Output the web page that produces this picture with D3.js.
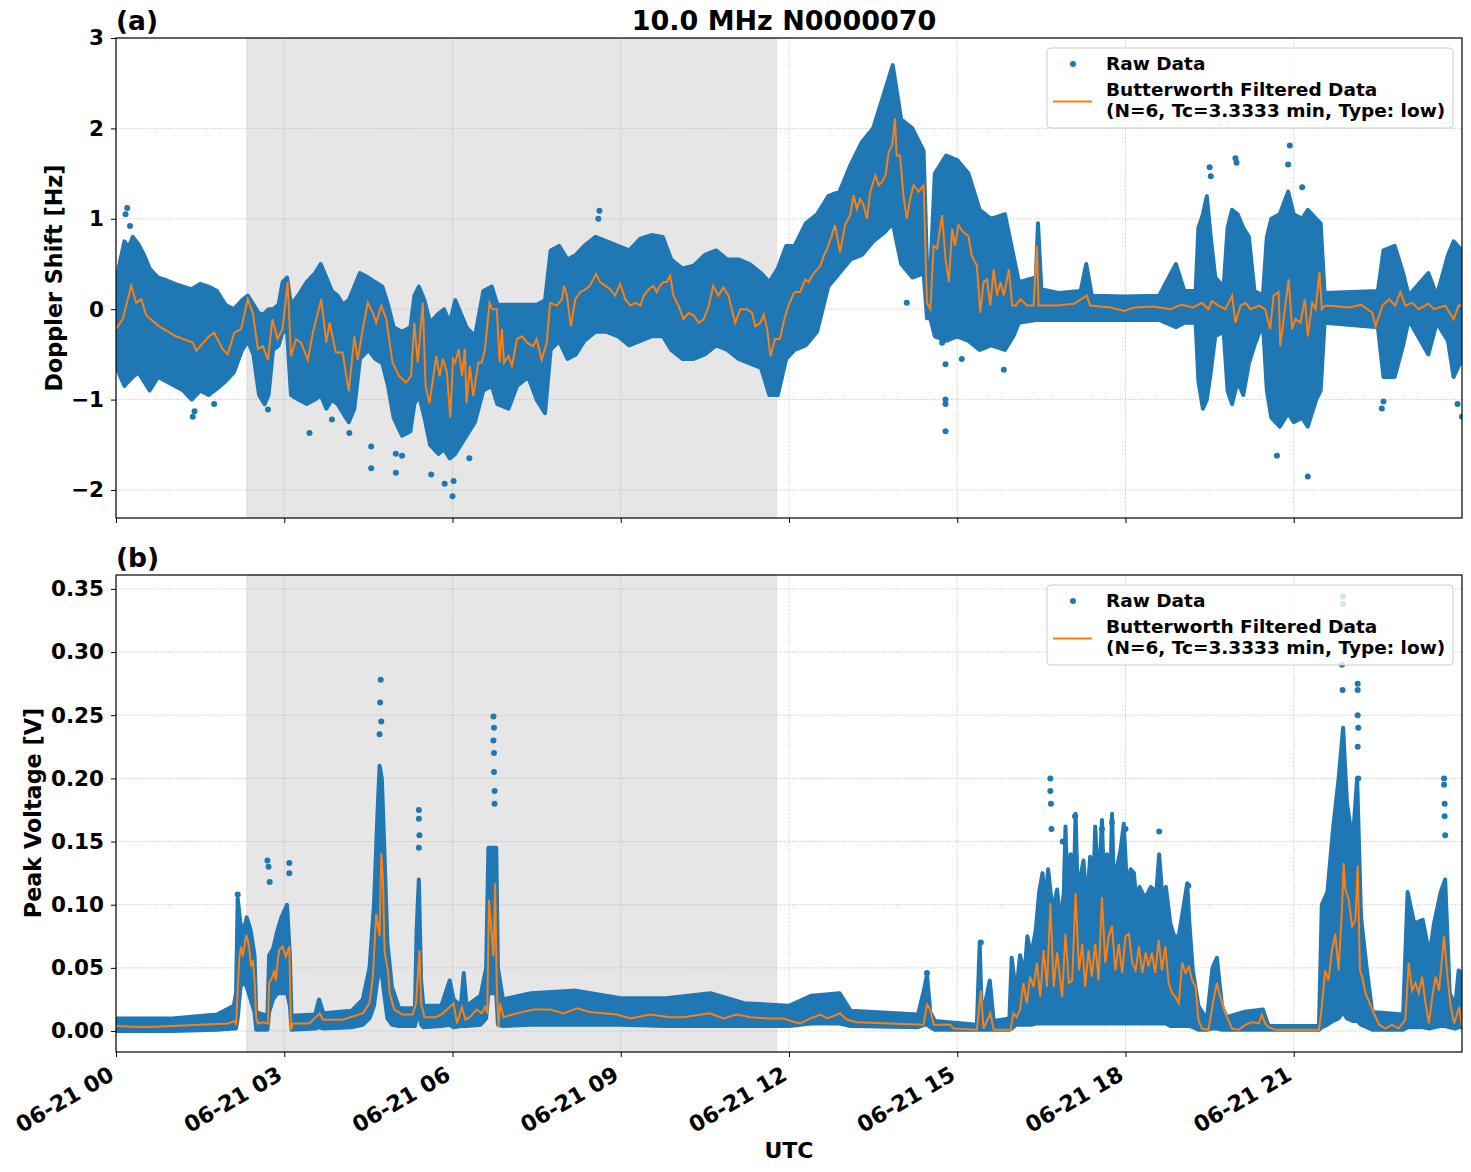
<!DOCTYPE html>
<html>
<head>
<meta charset="utf-8">
<script src="https://cdn.jsdelivr.net/npm/d3@7"></script>
<style>
body { margin: 0; background: #fff; }
text { font-family: "DejaVu Sans", sans-serif; font-weight: bold; fill: #000; }
</style>
</head>
<body>
<div id="chart"></div>
<script>
// ---- data (hours since 06-21 00 UTC) ----
var hourTicks = [0, 3, 6, 9, 12, 15, 18, 21];
var dopplerTicks = [-2, -1, 0, 1, 2, 3];
var voltTicks = [0, 0.05, 0.10, 0.15, 0.20, 0.25, 0.30, 0.35];
var nightSpan = [2.33, 11.78];

// raw Doppler cloud: [hour, lower edge, upper edge]
var dopplerBand = [
  [0.00,-0.62,0.30],[0.08,-0.75,0.55],[0.15,-0.85,0.75],[0.22,-0.80,0.68],[0.30,-0.75,0.80],
  [0.40,-0.70,0.72],[0.50,-0.80,0.60],[0.60,-0.90,0.45],[0.75,-0.75,0.35],[0.90,-0.80,0.32],
  [1.05,-0.85,0.28],[1.20,-0.90,0.25],[1.35,-1.00,0.22],[1.50,-0.90,0.28],[1.65,-0.95,0.25],
  [1.80,-0.88,0.20],[1.95,-0.80,0.05],[2.10,-0.70,0.00],[2.25,-0.45,0.10],[2.35,-0.35,0.15],
  [2.45,-0.50,0.05],[2.55,-0.95,-0.05],[2.65,-1.05,-0.05],[2.72,-0.95,0.00],[2.80,-0.45,0.00],
  [2.90,-0.40,0.05],[2.97,-0.25,0.30],[3.05,-0.25,0.35],[3.12,-0.95,0.05],[3.25,-1.00,0.15],
  [3.40,-1.05,0.30],[3.55,-1.00,0.40],[3.65,-0.95,0.50],[3.75,-1.10,0.35],[3.85,-1.00,0.20],
  [3.95,-1.05,0.15],[4.05,-1.15,0.05],[4.15,-1.25,0.10],[4.25,-1.10,0.25],[4.35,-0.55,0.40],
  [4.50,-0.45,0.35],[4.62,-0.55,0.30],[4.75,-0.60,0.25],[4.85,-0.85,0.05],[4.95,-1.20,-0.20],
  [5.10,-1.40,-0.25],[5.25,-1.35,-0.20],[5.32,-1.05,0.15],[5.40,-0.95,0.25],[5.50,-1.20,0.10],
  [5.60,-1.50,-0.15],[5.75,-1.60,-0.05],[5.85,-1.55,0.00],[5.95,-1.65,-0.15],[6.05,-1.60,0.10],
  [6.15,-1.50,-0.05],[6.25,-1.40,-0.20],[6.40,-1.25,-0.30],[6.55,-0.90,0.20],[6.70,-0.85,0.25],
  [6.80,-1.05,0.05],[7.00,-1.10,0.05],[7.15,-0.85,0.05],[7.35,-0.75,0.05],[7.50,-1.00,0.05],
  [7.65,-1.15,0.10],[7.75,-0.45,0.65],[7.90,-0.35,0.70],[8.05,-0.55,0.55],[8.20,-0.50,0.60],
  [8.35,-0.35,0.70],[8.55,-0.25,0.80],[8.75,-0.25,0.75],[8.95,-0.30,0.70],[9.15,-0.40,0.65],
  [9.35,-0.35,0.78],[9.55,-0.30,0.82],[9.75,-0.30,0.80],[9.90,-0.45,0.55],[10.10,-0.55,0.45],
  [10.30,-0.55,0.48],[10.50,-0.50,0.60],[10.70,-0.40,0.65],[10.90,-0.45,0.55],[11.10,-0.55,0.55],
  [11.30,-0.60,0.50],[11.50,-0.65,0.40],[11.65,-0.95,0.30],[11.80,-0.95,0.45],[11.95,-0.55,0.70],
  [12.10,-0.45,0.70],[12.30,-0.40,0.95],[12.50,-0.25,1.05],[12.70,0.25,1.25],[12.90,0.40,1.30],
  [13.10,0.55,1.60],[13.30,0.60,1.85],[13.50,0.75,2.00],[13.70,0.85,2.40],[13.85,0.95,2.70],
  [14.00,0.50,2.10],[14.20,0.35,2.00],[14.40,0.40,1.75],[14.46,-0.10,0.50],[14.52,-0.10,0.40],
  [14.60,-0.30,1.50],[14.80,-0.35,1.70],[15.00,-0.30,1.65],[15.20,-0.35,1.50],[15.40,-0.45,1.10],
  [15.60,-0.40,1.00],[15.85,-0.45,1.05],[16.00,-0.30,0.60],[16.10,-0.15,0.30],[16.40,-0.12,0.35],
  [16.44,-0.12,0.95],[16.50,-0.12,0.22],[16.80,-0.12,0.18],[17.20,-0.12,0.20],[17.30,-0.12,0.50],
  [17.40,-0.12,0.15],[18.00,-0.12,0.14],[18.60,-0.12,0.15],[18.90,-0.20,0.50],[19.05,-0.15,0.20],
  [19.25,-0.15,0.20],[19.30,-0.80,0.90],[19.38,-1.10,1.05],[19.45,-1.00,1.25],[19.52,-0.70,0.80],
  [19.60,-0.30,0.35],[19.75,-0.25,0.25],[19.82,-0.90,0.90],[19.90,-1.05,1.10],[20.00,-0.80,1.05],
  [20.10,-0.95,0.90],[20.20,-0.60,0.80],[20.30,-0.40,0.20],[20.45,-0.15,0.15],[20.52,-0.90,0.80],
  [20.60,-1.20,1.00],[20.75,-1.30,1.05],[20.90,-1.15,1.30],[21.00,-1.25,1.05],[21.15,-1.20,1.00],
  [21.25,-1.30,1.10],[21.40,-1.00,1.00],[21.48,-0.90,0.95],[21.55,-0.15,0.18],
  [22.50,-0.20,0.20],[22.60,-0.75,0.65],[22.80,-0.75,0.70],[22.95,-0.40,0.40],[23.05,-0.12,0.15],
  [23.40,-0.50,0.40],[23.55,-0.15,0.15],[23.75,-0.35,0.60],[23.85,-0.75,0.75],[24.00,-0.55,0.65]
];

var dopplerOutliers = [
  [0.17,1.05],[0.20,1.12],[0.25,0.92],[1.37,-1.19],[1.40,-1.13],[1.75,-1.05],[2.71,-1.11],
  [3.45,-1.37],[3.85,-1.22],[4.16,-1.37],[4.55,-1.52],[4.55,-1.76],[4.99,-1.60],[4.99,-1.81],
  [5.10,-1.62],[5.62,-1.83],[5.86,-1.93],[6.00,-2.07],[6.02,-1.90],[6.30,-1.65],[8.62,1.09],
  [8.60,1.00],[14.10,0.07],[14.73,-0.37],[14.79,-0.61],[14.79,-1.00],[14.79,-1.05],[14.79,-1.35],
  [15.08,-0.55],[15.83,-0.67],[19.50,1.57],[19.52,1.47],[19.96,1.67],[19.98,1.62],[20.70,-1.62],
  [20.93,1.81],[20.90,1.60],[21.15,1.35],[21.25,-1.85],[22.57,-1.10],[22.60,-1.02],[24.00,-1.19],
  [23.92,-1.05]
];

// Butterworth filtered Doppler shift: [hour, Hz]
var dopplerFiltered = [
  [0.00,-0.22],[0.12,-0.11],[0.27,0.26],[0.36,0.07],[0.45,0.11],[0.54,-0.07],[0.77,-0.19],
  [1.07,-0.30],[1.37,-0.37],[1.43,-0.46],[1.66,-0.30],[1.75,-0.26],[1.90,-0.44],[1.99,-0.50],
  [2.11,-0.26],[2.23,-0.22],[2.35,0.11],[2.44,-0.04],[2.53,-0.44],[2.62,-0.41],[2.71,-0.56],
  [2.79,-0.11],[2.88,-0.33],[2.97,-0.22],[3.06,0.30],[3.12,-0.52],[3.21,-0.33],[3.30,-0.37],
  [3.42,-0.56],[3.51,-0.26],[3.66,0.11],[3.75,-0.37],[3.81,-0.15],[3.92,-0.48],[4.04,-0.48],
  [4.15,-0.91],[4.25,-0.30],[4.31,-0.56],[4.40,-0.22],[4.49,0.07],[4.58,-0.04],[4.64,-0.15],
  [4.73,0.04],[4.82,-0.11],[4.93,-0.59],[5.05,-0.74],[5.17,-0.81],[5.26,-0.74],[5.32,-0.15],
  [5.38,-0.59],[5.47,0.07],[5.52,-0.85],[5.59,-1.04],[5.71,-0.52],[5.77,-0.74],[5.83,-0.55],
  [5.90,-0.70],[5.96,-1.20],[6.01,-0.55],[6.05,-0.59],[6.11,-0.44],[6.17,-0.74],[6.22,-0.44],
  [6.25,-1.04],[6.31,-0.63],[6.37,-0.96],[6.46,-0.59],[6.52,-0.59],[6.58,-0.44],[6.66,0.07],
  [6.71,0.00],[6.79,0.00],[6.84,-0.59],[6.88,-0.22],[6.92,-0.59],[7.00,-0.52],[7.06,-0.63],
  [7.15,-0.33],[7.24,-0.30],[7.33,-0.37],[7.44,-0.41],[7.50,-0.33],[7.59,-0.56],[7.68,-0.37],
  [7.74,0.07],[7.86,0.04],[7.95,0.11],[7.99,0.26],[8.04,0.15],[8.11,-0.19],[8.19,0.11],
  [8.28,0.19],[8.37,0.22],[8.45,0.26],[8.56,0.39],[8.63,0.30],[8.72,0.26],[8.81,0.22],
  [8.90,0.15],[8.99,0.28],[9.08,0.11],[9.17,0.04],[9.26,0.07],[9.35,0.04],[9.41,0.15],
  [9.50,0.22],[9.58,0.26],[9.64,0.19],[9.70,0.26],[9.76,0.30],[9.82,0.30],[9.88,0.37],
  [9.94,0.15],[10.03,0.04],[10.12,-0.11],[10.21,-0.04],[10.30,-0.07],[10.39,-0.15],[10.48,-0.11],
  [10.57,0.04],[10.65,0.26],[10.74,0.15],[10.83,0.24],[10.92,0.15],[11.04,-0.15],[11.13,0.00],
  [11.25,0.00],[11.34,-0.04],[11.40,-0.19],[11.49,-0.15],[11.55,-0.06],[11.61,-0.22],[11.67,-0.52],
  [11.75,-0.33],[11.84,-0.33],[11.90,-0.15],[11.99,0.04],[12.08,0.17],[12.11,0.19],[12.20,0.19],
  [12.29,0.33],[12.35,0.30],[12.41,0.37],[12.46,0.41],[12.56,0.48],[12.62,0.59],[12.68,0.67],
  [12.76,0.81],[12.82,0.93],[12.91,0.63],[13.00,0.93],[13.09,1.04],[13.15,1.26],[13.21,1.11],
  [13.27,1.22],[13.33,1.15],[13.39,1.00],[13.45,1.30],[13.54,1.48],[13.60,1.37],[13.66,1.41],
  [13.72,1.48],[13.78,1.74],[13.84,1.81],[13.89,2.11],[13.92,1.70],[13.98,1.70],[14.04,1.26],
  [14.10,1.00],[14.16,1.22],[14.22,1.37],[14.31,1.30],[14.40,1.37],[14.46,0.07],[14.52,0.00],
  [14.58,0.70],[14.64,0.67],[14.73,1.04],[14.79,0.56],[14.85,0.30],[14.91,0.89],[14.96,0.70],
  [15.02,0.93],[15.11,0.85],[15.20,0.81],[15.26,0.59],[15.35,0.48],[15.41,-0.04],[15.47,0.30],
  [15.53,0.33],[15.59,0.04],[15.65,0.44],[15.71,0.15],[15.77,0.30],[15.83,0.15],[15.92,0.44],
  [15.98,0.04],[16.04,0.04],[16.13,0.11],[16.24,0.04],[16.36,0.04],[16.42,0.70],[16.45,0.04],
  [16.54,0.04],[16.78,0.04],[17.08,0.06],[17.31,0.15],[17.37,0.04],[17.73,0.02],[17.97,-0.02],
  [18.17,0.02],[18.50,0.03],[18.80,0.00],[19.00,0.05],[19.20,0.02],[19.36,0.07],[19.48,0.00],
  [19.54,0.09],[19.66,0.04],[19.78,0.00],[19.90,0.15],[19.96,-0.15],[20.05,0.04],[20.14,0.07],
  [20.23,0.00],[20.38,0.04],[20.49,0.00],[20.58,-0.22],[20.64,0.15],[20.73,0.19],[20.76,-0.41],
  [20.85,0.04],[20.91,0.33],[20.97,-0.22],[21.03,-0.11],[21.12,-0.15],[21.20,0.11],[21.25,-0.30],
  [21.33,0.07],[21.39,0.00],[21.46,0.41],[21.50,0.00],[21.56,0.04],[21.80,0.03],[22.00,0.02],
  [22.20,0.05],[22.40,-0.04],[22.46,-0.19],[22.58,0.04],[22.70,0.11],[22.81,0.04],[22.90,0.19],
  [22.99,0.04],[23.11,0.07],[23.23,0.00],[23.40,0.06],[23.50,0.00],[23.70,0.04],[23.85,-0.11],
  [23.94,0.04],[24.00,0.04]
];

// raw peak voltage cloud: [hour, lower edge, upper edge]
var voltBand = [
  [0.00,0.000,0.010],[1.00,0.000,0.010],[1.80,0.001,0.013],[2.10,0.002,0.020],[2.14,0.002,0.030],
  [2.17,0.010,0.105],[2.22,0.035,0.085],[2.28,0.040,0.080],[2.33,0.035,0.090],[2.40,0.025,0.080],
  [2.47,0.015,0.060],[2.50,0.001,0.015],[2.70,0.001,0.012],[2.73,0.015,0.060],[2.80,0.025,0.065],
  [2.88,0.030,0.080],[2.95,0.030,0.090],[3.05,0.030,0.100],[3.10,0.020,0.060],[3.13,0.001,0.012],
  [3.55,0.002,0.013],[3.62,0.003,0.025],[3.70,0.002,0.014],[4.20,0.003,0.016],[4.40,0.005,0.025],
  [4.52,0.010,0.050],[4.60,0.020,0.100],[4.66,0.040,0.170],[4.70,0.050,0.210],[4.74,0.045,0.200],
  [4.78,0.030,0.150],[4.84,0.010,0.070],[4.92,0.005,0.035],[5.05,0.004,0.018],[5.33,0.004,0.018],
  [5.36,0.010,0.080],[5.40,0.015,0.120],[5.44,0.005,0.040],[5.48,0.003,0.020],[5.80,0.004,0.020],
  [5.95,0.005,0.040],[6.02,0.003,0.025],[6.15,0.004,0.020],[6.20,0.004,0.046],[6.25,0.004,0.020],
  [6.50,0.005,0.028],[6.60,0.010,0.050],[6.64,0.030,0.145],[6.78,0.030,0.145],[6.81,0.005,0.050],
  [6.90,0.004,0.025],[7.40,0.005,0.030],[8.20,0.005,0.032],[9.00,0.005,0.026],[9.80,0.004,0.026],
  [10.60,0.004,0.030],[11.20,0.004,0.022],[12.00,0.004,0.020],[12.40,0.006,0.028],[12.90,0.006,0.030],
  [13.10,0.004,0.016],[14.30,0.003,0.013],[14.42,0.005,0.035],[14.46,0.005,0.045],[14.52,0.003,0.015],
  [14.60,0.001,0.008],[15.35,0.001,0.005],[15.40,0.001,0.070],[15.44,0.001,0.010],[15.58,0.001,0.040],
  [15.65,0.001,0.008],[15.93,0.001,0.010],[15.97,0.002,0.058],[16.05,0.005,0.030],[16.12,0.005,0.060],
  [16.20,0.005,0.045],[16.25,0.005,0.075],[16.32,0.005,0.060],[16.40,0.006,0.080],[16.46,0.006,0.110],
  [16.52,0.006,0.125],[16.57,0.006,0.100],[16.62,0.006,0.128],[16.70,0.006,0.095],[16.78,0.006,0.112],
  [16.84,0.006,0.085],[16.90,0.006,0.110],[16.93,0.006,0.162],[16.97,0.006,0.100],[17.02,0.006,0.140],
  [17.07,0.006,0.100],[17.11,0.006,0.172],[17.15,0.006,0.105],[17.19,0.006,0.120],[17.25,0.006,0.135],
  [17.31,0.006,0.100],[17.37,0.006,0.138],[17.42,0.006,0.105],[17.46,0.006,0.162],[17.52,0.006,0.110],
  [17.58,0.006,0.167],[17.62,0.006,0.110],[17.67,0.006,0.140],[17.72,0.006,0.105],[17.76,0.006,0.172],
  [17.80,0.006,0.100],[17.84,0.006,0.128],[17.91,0.006,0.143],[17.97,0.006,0.164],[18.03,0.006,0.110],
  [18.09,0.006,0.128],[18.15,0.006,0.125],[18.20,0.006,0.100],[18.25,0.006,0.114],[18.35,0.006,0.105],
  [18.45,0.006,0.114],[18.55,0.006,0.110],[18.60,0.006,0.140],[18.66,0.006,0.105],[18.72,0.006,0.114],
  [18.80,0.004,0.085],[18.87,0.004,0.075],[18.95,0.004,0.075],[19.10,0.004,0.117],[19.14,0.004,0.085],
  [19.20,0.003,0.048],[19.30,0.001,0.020],[19.45,0.001,0.009],[19.55,0.002,0.050],
  [19.63,0.002,0.058],[19.72,0.001,0.020],[19.80,0.001,0.011],[20.10,0.001,0.015],[20.45,0.001,0.017],
  [20.55,0.001,0.004],[21.45,0.001,0.004],[21.50,0.003,0.100],[21.60,0.005,0.110],[21.70,0.008,0.160],
  [21.80,0.010,0.200],[21.88,0.015,0.240],[21.95,0.010,0.180],[22.05,0.008,0.150],[22.13,0.008,0.200],
  [22.20,0.005,0.090],[22.30,0.003,0.050],[22.40,0.001,0.015],[22.95,0.001,0.013],[23.03,0.003,0.110],
  [23.15,0.003,0.085],[23.30,0.003,0.088],[23.42,0.002,0.060],[23.50,0.003,0.085],[23.62,0.004,0.110],
  [23.70,0.004,0.120],[23.78,0.003,0.030],[23.88,0.002,0.020],[23.94,0.003,0.048],[24.00,0.003,0.045]
];

var voltOutliers = [
  [2.17,0.108],[2.70,0.135],[2.72,0.130],[2.74,0.118],[3.09,0.133],[3.09,0.125],[4.72,0.278],
  [4.71,0.260],[4.73,0.245],[4.70,0.235],[5.40,0.175],[5.40,0.168],[5.41,0.155],[5.40,0.145],
  [6.73,0.249],[6.74,0.240],[6.73,0.230],[6.74,0.220],[6.74,0.205],[6.75,0.190],[6.75,0.180],
  [14.46,0.046],[15.42,0.070],[16.66,0.200],[16.66,0.190],[16.67,0.180],[16.68,0.160],[16.88,0.150],
  [17.10,0.170],[17.58,0.160],[17.76,0.165],[18.00,0.160],[18.60,0.158],[19.12,0.115],[21.88,0.344],
  [21.88,0.338],[21.88,0.320],[21.89,0.300],[21.86,0.290],[21.87,0.270],[22.14,0.275],[22.14,0.270],
  [22.14,0.250],[22.15,0.240],[22.14,0.225],[22.15,0.200],[23.68,0.200],[23.68,0.195],[23.69,0.180],
  [23.69,0.170],[23.70,0.155]
];

// Butterworth filtered peak voltage: [hour, V]
var voltFiltered = [
  [0.00,0.004],[0.50,0.003],[1.00,0.004],[1.50,0.005],[2.00,0.006],[2.12,0.008],[2.14,0.005],
  [2.17,0.032],[2.20,0.059],[2.23,0.067],[2.26,0.059],[2.29,0.067],[2.32,0.076],[2.35,0.072],
  [2.38,0.064],[2.41,0.051],[2.44,0.056],[2.47,0.040],[2.50,0.011],[2.53,0.006],[2.62,0.007],
  [2.71,0.006],[2.73,0.038],[2.79,0.043],[2.82,0.048],[2.85,0.040],[2.88,0.054],[2.91,0.064],
  [2.97,0.067],[3.03,0.059],[3.09,0.067],[3.12,0.001],[3.15,0.006],[3.45,0.006],[3.63,0.014],
  [3.69,0.009],[4.04,0.009],[4.40,0.014],[4.52,0.022],[4.58,0.043],[4.64,0.093],[4.70,0.075],
  [4.73,0.141],[4.76,0.120],[4.79,0.062],[4.85,0.048],[4.88,0.030],[4.96,0.017],[5.11,0.013],
  [5.29,0.013],[5.35,0.022],[5.41,0.064],[5.44,0.022],[5.50,0.011],[5.71,0.011],[5.83,0.014],
  [5.95,0.019],[6.02,0.022],[6.08,0.006],[6.17,0.019],[6.23,0.009],[6.31,0.011],[6.43,0.017],
  [6.52,0.014],[6.58,0.019],[6.62,0.014],[6.65,0.104],[6.73,0.059],[6.76,0.117],[6.79,0.035],
  [6.82,0.003],[6.85,0.022],[6.91,0.011],[7.15,0.014],[7.44,0.017],[7.74,0.017],[7.98,0.014],
  [8.22,0.018],[8.45,0.015],[8.69,0.014],[8.93,0.013],[9.17,0.010],[9.52,0.013],[9.88,0.011],
  [10.12,0.011],[10.59,0.014],[10.83,0.010],[11.07,0.013],[11.31,0.011],[11.60,0.010],[11.90,0.010],
  [12.11,0.007],[12.20,0.006],[12.38,0.010],[12.56,0.013],[12.68,0.010],[12.91,0.014],[13.03,0.009],
  [13.21,0.007],[13.81,0.006],[14.40,0.005],[14.46,0.021],[14.52,0.017],[14.58,0.005],[14.88,0.005],
  [14.93,0.002],[15.35,0.001],[15.42,0.032],[15.47,0.002],[15.59,0.014],[15.65,0.001],[15.95,0.001],
  [16.00,0.014],[16.06,0.011],[16.12,0.017],[16.18,0.038],[16.24,0.022],[16.30,0.043],[16.36,0.035],
  [16.42,0.054],[16.48,0.027],[16.54,0.064],[16.60,0.035],[16.66,0.101],[16.72,0.035],[16.78,0.062],
  [16.87,0.027],[16.93,0.077],[16.99,0.038],[17.05,0.040],[17.11,0.109],[17.17,0.048],[17.23,0.069],
  [17.28,0.035],[17.34,0.064],[17.40,0.043],[17.46,0.069],[17.52,0.040],[17.58,0.106],[17.64,0.054],
  [17.70,0.075],[17.76,0.083],[17.82,0.048],[17.88,0.069],[17.94,0.046],[18.00,0.075],[18.06,0.077],
  [18.12,0.054],[18.18,0.048],[18.24,0.067],[18.30,0.046],[18.36,0.062],[18.41,0.051],[18.47,0.062],
  [18.53,0.046],[18.59,0.072],[18.65,0.048],[18.71,0.067],[18.77,0.038],[18.83,0.030],[18.89,0.027],
  [18.95,0.022],[19.01,0.054],[19.07,0.046],[19.13,0.051],[19.19,0.040],[19.25,0.035],[19.30,0.009],
  [19.36,0.002],[19.48,0.001],[19.57,0.025],[19.63,0.038],[19.69,0.027],[19.78,0.014],[19.90,0.002],
  [20.02,0.001],[20.14,0.005],[20.26,0.007],[20.38,0.006],[20.43,0.013],[20.49,0.006],[20.55,0.003],
  [20.67,0.001],[20.97,0.001],[21.45,0.001],[21.50,0.019],[21.56,0.048],[21.62,0.040],[21.68,0.064],
  [21.74,0.077],[21.80,0.048],[21.86,0.096],[21.89,0.133],[21.92,0.112],[21.98,0.104],[22.04,0.083],
  [22.10,0.088],[22.14,0.131],[22.18,0.048],[22.22,0.043],[22.28,0.030],[22.40,0.017],[22.52,0.005],
  [22.64,0.002],[22.75,0.005],[22.87,0.002],[22.99,0.009],[23.05,0.054],[23.11,0.032],[23.17,0.038],
  [23.23,0.030],[23.29,0.043],[23.35,0.022],[23.41,0.006],[23.47,0.027],[23.53,0.043],[23.59,0.032],
  [23.68,0.075],[23.74,0.043],[23.80,0.019],[23.86,0.006],[23.95,0.019],[24.00,0.003]
];

// ---- layout ----
var w = 1471;
var h = 1172;
var left = 116, right = 1462;
var blue = "#1f77b4", orange = "#ff7f0e";

var svg = d3.select("#chart")
  .append("svg")
  .attr("width", w)
  .attr("height", h);

var x = d3.scaleLinear().domain([0, 24]).range([left, right]);
var yTop = d3.scaleLinear().domain([-2.31, 3.0]).range([518, 38]);
var yBot = d3.scaleLinear().domain([-0.0166, 0.361]).range([1052, 575]);

function drawPanel(id, y, band, outliers, filtered, ticks, fmt) {
  var y0 = y.range()[1], y1 = y.range()[0];

  svg.append("clipPath").attr("id", id)
    .append("rect").attr("x", left).attr("y", y0)
    .attr("width", right - left).attr("height", y1 - y0);

  var g = svg.append("g").attr("clip-path", "url(#" + id + ")");

  // night shading
  g.append("rect")
    .attr("x", x(nightSpan[0])).attr("y", y0)
    .attr("width", x(nightSpan[1]) - x(nightSpan[0])).attr("height", y1 - y0)
    .attr("fill", "#808080").attr("fill-opacity", 0.2)
    .attr("stroke", "#808080").attr("stroke-opacity", 0.1).attr("stroke-width", 1.5);

  // grid
  g.append("g").selectAll("line").data(ticks).enter().append("line")
    .attr("x1", left).attr("x2", right)
    .attr("y1", function(d) { return y(d); }).attr("y2", function(d) { return y(d); })
    .attr("stroke", "#b0b0b0").attr("stroke-width", 0.8).attr("stroke-dasharray", "1,1.6");
  g.append("g").selectAll("line").data(hourTicks).enter().append("line")
    .attr("y1", y0).attr("y2", y1)
    .attr("x1", function(d) { return x(d); }).attr("x2", function(d) { return x(d); })
    .attr("stroke", "#b0b0b0").attr("stroke-width", 0.8).attr("stroke-dasharray", "1,1.6");

  // raw data cloud
  var area = d3.area()
    .x(function(d) { return x(d[0]); })
    .y0(function(d) { return y(d[1]); })
    .y1(function(d) { return y(d[2]); });
  g.append("path").datum(band)
    .attr("d", area)
    .attr("fill", blue).attr("stroke", blue)
    .attr("stroke-width", 4).attr("stroke-linejoin", "round");

  g.append("g").selectAll("circle").data(outliers).enter().append("circle")
    .attr("cx", function(d) { return x(d[0]); })
    .attr("cy", function(d) { return y(d[1]); })
    .attr("r", 3).attr("fill", blue);

  // filtered line
  var line = d3.line()
    .x(function(d) { return x(d[0]); })
    .y(function(d) { return y(d[1]); });
  g.append("path").datum(filtered)
    .attr("d", line)
    .attr("fill", "none").attr("stroke", orange).attr("stroke-width", 2);

  // axes
  var yAxis = d3.axisLeft(y).tickValues(ticks).tickFormat(fmt).tickSize(5).tickPadding(7);
  var ya = svg.append("g").attr("transform", "translate(" + left + ",0)").call(yAxis);
  ya.select(".domain").remove();
  ya.selectAll("text").style("font-size", "21.5px").attr("fill", "#000");

  var xAxis = d3.axisBottom(x).tickValues(hourTicks).tickSize(5)
    .tickFormat(function(d) { return "06-21 " + d3.format("02d")(d); });
  var xa = svg.append("g").attr("transform", "translate(0," + y1 + ")").call(xAxis);
  xa.select(".domain").remove();

  // frame
  svg.append("rect")
    .attr("x", left).attr("y", y0)
    .attr("width", right - left).attr("height", y1 - y0)
    .attr("fill", "none").attr("stroke", "#000").attr("stroke-width", 1.2);

  return xa;
}

function drawLegend(axTop) {
  var lg = svg.append("g").attr("transform", "translate(1047," + (axTop + 10) + ")");
  lg.append("rect")
    .attr("width", 406).attr("height", 80).attr("rx", 4)
    .attr("fill", "#fff").attr("fill-opacity", 0.8)
    .attr("stroke", "#cccccc").attr("stroke-width", 1);
  lg.append("circle").attr("cx", 26).attr("cy", 16).attr("r", 3).attr("fill", blue);
  lg.append("line").attr("x1", 6).attr("x2", 45).attr("y1", 53.5).attr("y2", 53.5)
    .attr("stroke", orange).attr("stroke-width", 2);
  var labels = ["Raw Data", "Butterworth Filtered Data", "(N=6, Tc=3.3333 min, Type: low)"];
  var baselines = [21.5, 48, 69];
  lg.selectAll("text.lab").data(labels).enter().append("text")
    .attr("class", "lab")
    .attr("x", 59).attr("y", function(d, i) { return baselines[i]; })
    .style("font-size", "18.5px")
    .text(function(d) { return d; });
}

var xaTop = drawPanel("clipTop", yTop, dopplerBand, dopplerOutliers, dopplerFiltered,
  dopplerTicks, d3.format("d"));
xaTop.selectAll("text").remove();

var xaBot = drawPanel("clipBot", yBot, voltBand, voltOutliers, voltFiltered,
  voltTicks, d3.format(".2f"));
xaBot.selectAll("text")
  .style("font-size", "22px")
  .attr("fill", "#000")
  .attr("text-anchor", "end")
  .attr("dy", null)
  .attr("y", 0)
  .attr("transform", "translate(-9,13) rotate(-30)")
  .attr("dominant-baseline", "hanging");

drawLegend(38);
drawLegend(575);

// titles and labels
svg.append("text").attr("x", 784).attr("y", 30).attr("text-anchor", "middle")
  .style("font-size", "27px").text("10.0 MHz N0000070");
svg.append("text").attr("x", 116).attr("y", 30).style("font-size", "26.5px").text("(a)");
svg.append("text").attr("x", 116).attr("y", 567).style("font-size", "26.5px").text("(b)");

svg.append("text")
  .attr("transform", "translate(62,278) rotate(-90)")
  .attr("text-anchor", "middle").style("font-size", "22.3px")
  .text("Doppler Shift [Hz]");
svg.append("text")
  .attr("transform", "translate(41,813) rotate(-90)")
  .attr("text-anchor", "middle").style("font-size", "22.3px")
  .text("Peak Voltage [V]");
svg.append("text").attr("x", 789).attr("y", 1158).attr("text-anchor", "middle")
  .style("font-size", "22px").text("UTC");
</script>
</body>
</html>
